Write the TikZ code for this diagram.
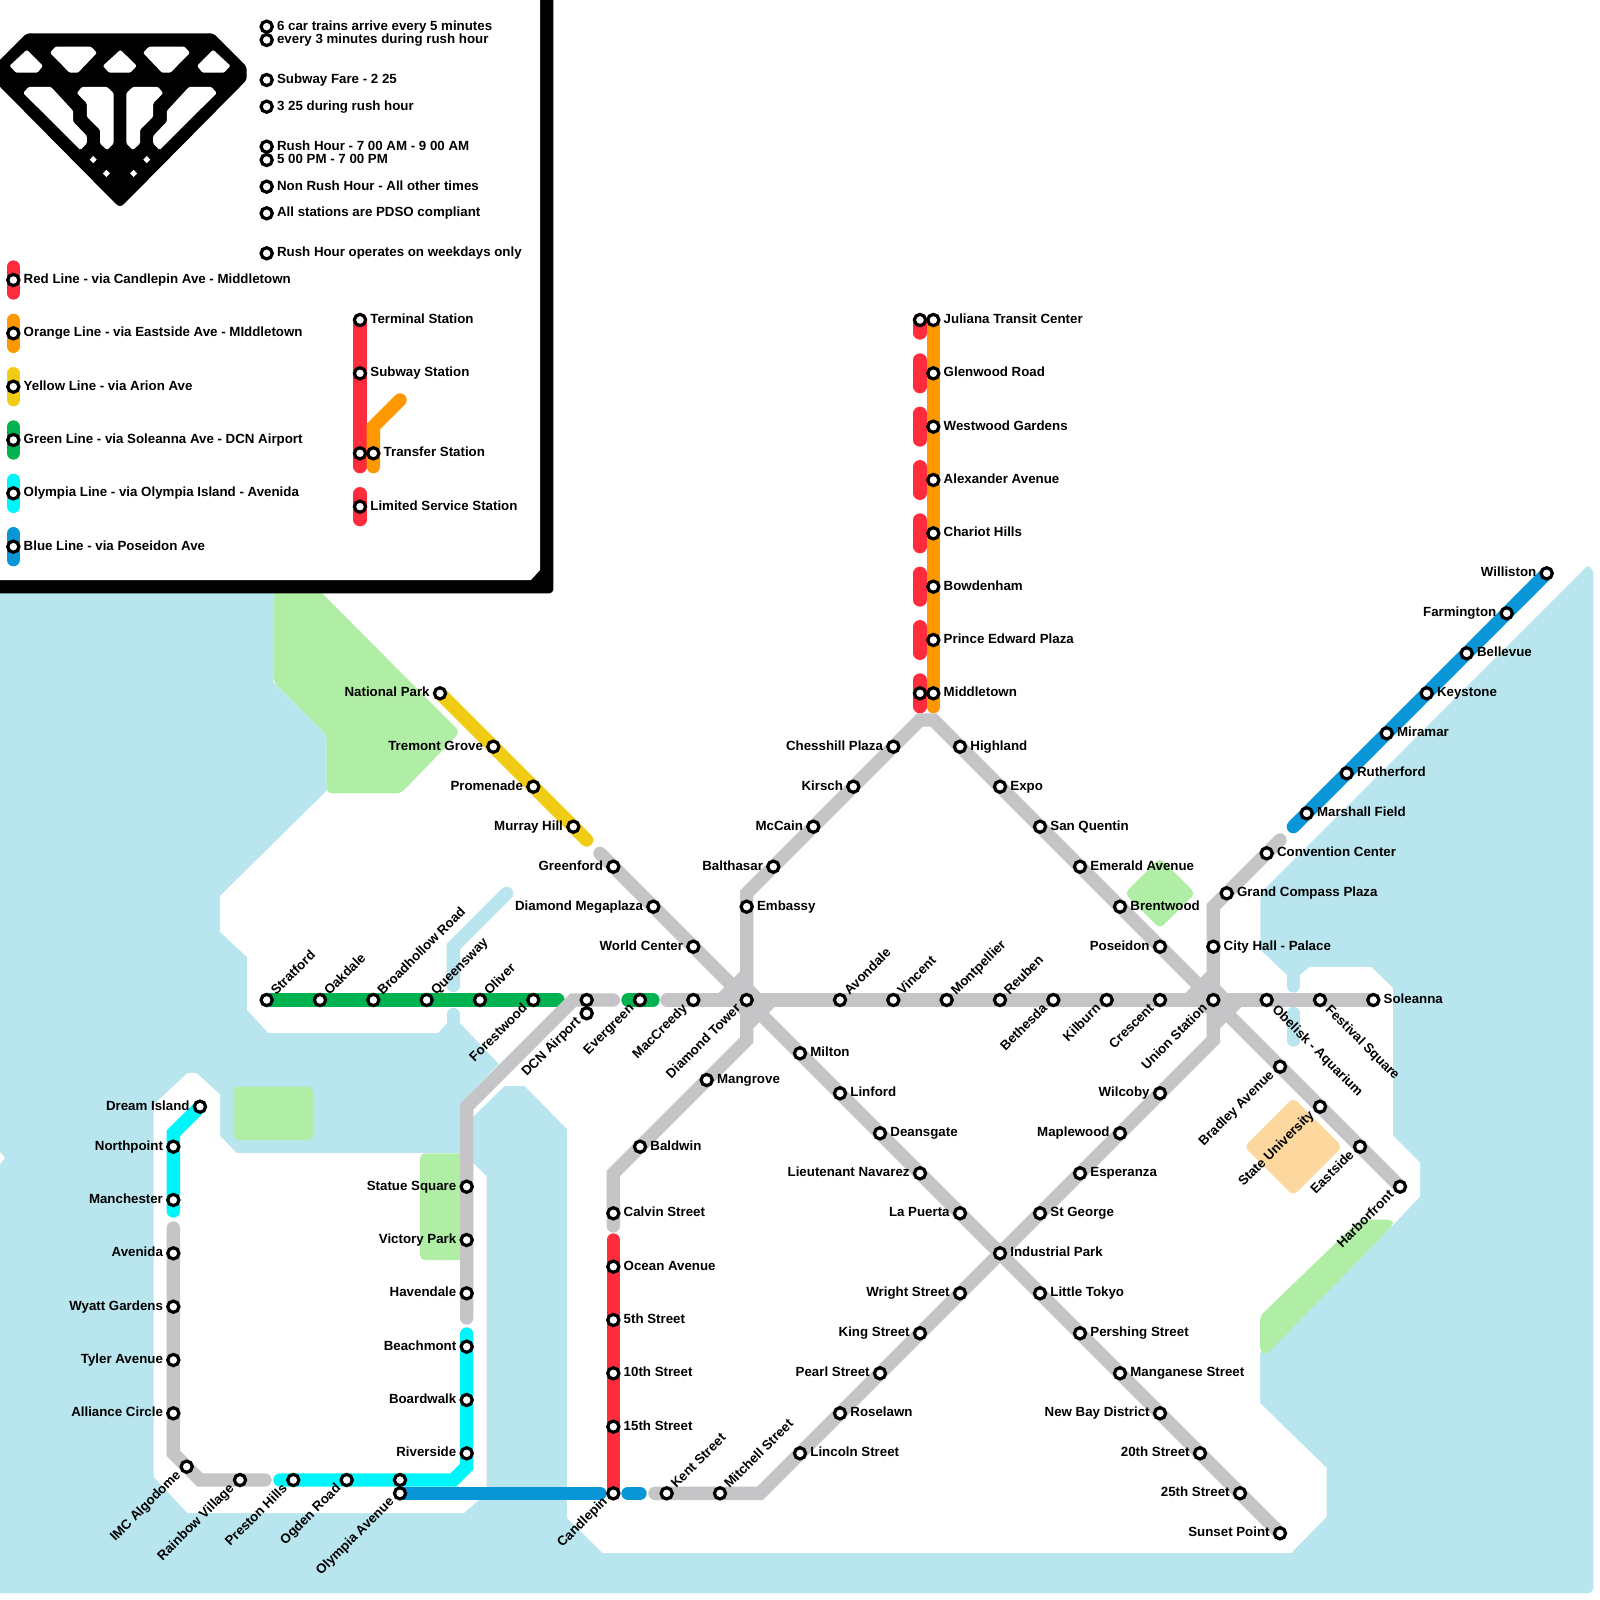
\documentclass[tikz,border=0pt]{standalone}
\usepackage{fontspec}
\setmainfont{Liberation Sans}[BoldFont={Liberation Sans Bold}]
\pgfdeclarelayer{land}\pgfdeclarelayer{frame}\pgfdeclarelayer{lines}
\pgfsetlayers{land,frame,lines,main}
\definecolor{water}{RGB}{184,229,238}
\definecolor{park}{RGB}{177,238,165}
\definecolor{campus}{RGB}{253,216,158}
\definecolor{lgray}{RGB}{197,197,199}
\definecolor{lred}{RGB}{255,45,60}
\definecolor{lorange}{RGB}{255,152,0}
\definecolor{lyellow}{RGB}{240,205,20}
\definecolor{lgreen}{RGB}{0,178,80}
\definecolor{lcyan}{RGB}{0,245,250}
\definecolor{lblue}{RGB}{8,150,215}
\tikzset{
 stn/.style={circle,draw=black,fill=white,line width=1.6pt,minimum size=5.6pt,inner sep=0pt,outer sep=0pt},
 lab/.style={font=\fontsize{6.65pt}{7pt}\selectfont\bfseries,inner sep=0pt,text=black,text height=4.77pt,text depth=0pt},
 rail/.style={line width=6.67pt,line cap=round,line join=miter,miter limit=10},
 graybar/.style={rail,draw=lgray},
 redbar/.style={rail,draw=lred},
 orangebar/.style={rail,draw=lorange},
 yellowbar/.style={rail,draw=lyellow},
 greenbar/.style={rail,draw=lgreen},
 cyanbar/.style={rail,draw=lcyan},
 bluebar/.style={rail,draw=lblue},
 river/.style={draw=water,line width=6.67pt,line cap=round,line join=miter},
 parkarea/.style={fill=park,rounded corners=2.5pt},
 hole/.style={fill=white,rounded corners=0.6pt}
}
\newcommand{\stnE}[4]{\node[stn] (#1) at (#2,#3) {}; \node[lab,anchor=west] (#1-t) at (#2+10,#3-1.3) {#4};}
\newcommand{\stnW}[4]{\node[stn] (#1) at (#2,#3) {}; \node[lab,anchor=east] (#1-t) at (#2-10,#3-1.3) {#4};}
\newcommand{\stnNE}[4]{\node[stn] (#1) at (#2,#3) {}; \node[lab,anchor=west,rotate=45] (#1-t) at (#2+6,#3-7.5) {#4};}
\newcommand{\stnSW}[4]{\node[stn] (#1) at (#2,#3) {}; \node[lab,anchor=east,rotate=45] (#1-t) at (#2-8.5,#3+5.5) {#4};}
\newcommand{\stnSE}[4]{\node[stn] (#1) at (#2,#3) {}; \node[lab,anchor=west,rotate=-45] (#1-t) at (#2+8,#3+7) {#4};}
\newcommand{\stnP}[3]{\node[stn] (#1) at (#2,#3) {};}
\newcommand{\hubfill}[1]{\fill[lgray] ([shift={(-7,-28)}]#1.center) -- ([shift={(28,7)}]#1.center) -- ([shift={(7,28)}]#1.center) -- ([shift={(-28,-7)}]#1.center) -- cycle;}
\begin{document}
\begin{tikzpicture}[x=0.5pt,y=-0.5pt]
\useasboundingbox (0,0) rectangle (1600,1600);
% ---------- stations: legend
\stnE{n1}{266.67}{26.67}{6 car trains arrive every 5 minutes}
\stnE{n2}{266.67}{40}{every 3 minutes during rush hour}
\stnE{n3}{266.67}{80}{Subway Fare - 2 25}
\stnE{n4}{266.67}{106.67}{3 25 during rush hour}
\stnE{n5}{266.67}{146.67}{Rush Hour - 7 00 AM - 9 00 AM}
\stnE{n6}{266.67}{160}{5 00 PM - 7 00 PM}
\stnE{n7}{266.67}{186.67}{Non Rush Hour - All other times}
\stnE{n8}{266.67}{213.33}{All stations are PDSO compliant}
\stnE{n9}{266.67}{253.33}{Rush Hour operates on weekdays only}
\stnE{kr}{13.33}{280}{Red Line - via Candlepin Ave - Middletown}
\stnE{ko}{13.33}{333.33}{Orange Line - via Eastside Ave - MIddletown}
\stnE{ky}{13.33}{386.67}{Yellow Line - via Arion Ave}
\stnE{kg}{13.33}{440}{Green Line - via Soleanna Ave - DCN Airport}
\stnE{kc}{13.33}{493.33}{Olympia Line - via Olympia Island - Avenida}
\stnE{kb}{13.33}{546.67}{Blue Line - via Poseidon Ave}
\stnE{kterm}{360}{320}{Terminal Station}
\stnE{ksub}{360}{373.33}{Subway Station}
\stnP{ktr1}{360}{453.33}
\stnE{ktr2}{373.33}{453.33}{Transfer Station}
\stnE{klim}{360}{506.67}{Limited Service Station}
% ---------- stations: orange / red
\stnP{jr}{920}{320}
\stnE{jul}{933.33}{320}{Juliana Transit Center}
\stnE{gle}{933.33}{373.33}{Glenwood Road}
\stnE{wes}{933.33}{426.67}{Westwood Gardens}
\stnE{ale}{933.33}{480}{Alexander Avenue}
\stnE{cha}{933.33}{533.33}{Chariot Hills}
\stnE{bow}{933.33}{586.67}{Bowdenham}
\stnE{pri}{933.33}{640}{Prince Edward Plaza}
\stnP{mr}{920}{693.33}
\stnE{mid}{933.33}{693.33}{Middletown}
% yellow
\stnW{nat}{440}{693.33}{National Park}
\stnW{tre}{493.33}{746.67}{Tremont Grove}
\stnW{pro}{533.33}{786.67}{Promenade}
\stnW{mur}{573.33}{826.67}{Murray Hill}
% NW diagonal
\stnW{grf}{613.33}{866.67}{Greenford}
\stnW{dmg}{653.33}{906.67}{Diamond Megaplaza}
\stnW{wor}{693.33}{946.67}{World Center}
\stnSW{dia}{746.67}{1000}{Diamond Tower}
\stnE{mil}{800}{1053.33}{Milton}
\stnE{lin}{840}{1093.33}{Linford}
\stnE{dea}{880}{1133.33}{Deansgate}
\stnW{ltn}{920}{1173.33}{Lieutenant Navarez}
\stnW{lap}{960}{1213.33}{La Puerta}
\stnE{ind}{1000}{1253.33}{Industrial Park}
\stnE{lit}{1040}{1293.33}{Little Tokyo}
\stnE{per}{1080}{1333.33}{Pershing Street}
\stnE{man}{1120}{1373.33}{Manganese Street}
\stnW{new}{1160}{1413.33}{New Bay District}
\stnW{s20}{1200}{1453.33}{20th Street}
\stnW{s25}{1240}{1493.33}{25th Street}
\stnW{sun}{1280}{1533.33}{Sunset Point}
% NE arch
\stnE{emb}{746.67}{906.67}{Embassy}
\stnW{bal}{773.33}{866.67}{Balthasar}
\stnW{mcc}{813.33}{826.67}{McCain}
\stnW{kir}{853.33}{786.67}{Kirsch}
\stnW{che}{893.33}{746.67}{Chesshill Plaza}
\stnE{hig}{960}{746.67}{Highland}
\stnE{exp}{1000}{786.67}{Expo}
\stnE{san}{1040}{826.67}{San Quentin}
\stnE{eme}{1080}{866.67}{Emerald Avenue}
\stnE{bre}{1120}{906.67}{Brentwood}
\stnW{pos}{1160}{946.67}{Poseidon}
\stnSW{uni}{1213.33}{1000}{Union Station}
\stnSW{bra}{1280}{1066.67}{Bradley Avenue}
\stnSW{sta}{1320}{1106.67}{State University}
\stnSW{eas}{1360}{1146.67}{Eastside}
\stnSW{har}{1400}{1186.67}{Harborfront}
% horizontal
\stnNE{str}{266.67}{1000}{Stratford}
\stnNE{oak}{320}{1000}{Oakdale}
\stnNE{bro}{373.33}{1000}{Broadhollow Road}
\stnNE{que}{426.67}{1000}{Queensway}
\stnNE{oli}{480}{1000}{Oliver}
\stnSW{for}{533.33}{1000}{Forestwood}
\stnP{dc1}{586.67}{1000}
\stnSW{dc2}{586.67}{1013.33}{DCN Airport}
\stnSW{eve}{640}{1000}{Evergreen}
\stnSW{mac}{693.33}{1000}{MacCreedy}
\stnNE{avo}{840}{1000}{Avondale}
\stnNE{vin}{893.33}{1000}{Vincent}
\stnNE{mon}{946.67}{1000}{Montpellier}
\stnNE{reu}{1000}{1000}{Reuben}
\stnSW{bet}{1053.33}{1000}{Bethesda}
\stnSW{kil}{1106.67}{1000}{Kilburn}
\stnSW{cre}{1160}{1000}{Crescent}
\stnSE{obe}{1266.67}{1000}{Obelisk - Aquarium}
\stnSE{fes}{1320}{1000}{Festival Square}
\stnE{sol}{1373.33}{1000}{Soleanna}
% SW diagonal from Union
\stnE{cit}{1213.33}{946.67}{City Hall - Palace}
\stnE{gra}{1226.67}{893.33}{Grand Compass Plaza}
\stnE{con}{1266.67}{853.33}{Convention Center}
\stnW{wil}{1160}{1093.33}{Wilcoby}
\stnW{map}{1120}{1133.33}{Maplewood}
\stnE{esp}{1080}{1173.33}{Esperanza}
\stnE{stg}{1040}{1213.33}{St George}
\stnW{wri}{960}{1293.33}{Wright Street}
\stnW{kin}{920}{1333.33}{King Street}
\stnW{pea}{880}{1373.33}{Pearl Street}
\stnE{ros}{840}{1413.33}{Roselawn}
\stnE{lnc}{800}{1453.33}{Lincoln Street}
\stnNE{mit}{720}{1493.33}{Mitchell Street}
\stnNE{ken}{666.67}{1493.33}{Kent Street}
\stnSW{can}{613.33}{1493.33}{Candlepin}
% red south
\stnE{man2}{706.67}{1080}{Mangrove}
\stnE{bld}{640}{1146.67}{Baldwin}
\stnE{cal}{613.33}{1213.33}{Calvin Street}
\stnE{oce}{613.33}{1266.67}{Ocean Avenue}
\stnE{s05}{613.33}{1320}{5th Street}
\stnE{s10}{613.33}{1373.33}{10th Street}
\stnE{s15}{613.33}{1426.67}{15th Street}
% west
\stnW{dre}{200}{1106.67}{Dream Island}
\stnW{nor}{173.33}{1146.67}{Northpoint}
\stnW{mnc}{173.33}{1200}{Manchester}
\stnW{ave}{173.33}{1253.33}{Avenida}
\stnW{wya}{173.33}{1306.67}{Wyatt Gardens}
\stnW{tyl}{173.33}{1360}{Tyler Avenue}
\stnW{all}{173.33}{1413.33}{Alliance Circle}
\stnSW{imc}{186.67}{1466.67}{IMC Algodome}
\stnSW{rai}{240}{1480}{Rainbow Village}
\stnSW{pre}{293.33}{1480}{Preston Hills}
\stnSW{ogd}{346.67}{1480}{Ogden Road}
\stnP{oa1}{400}{1480}
\stnSW{oa2}{400}{1493.33}{Olympia Avenue}
\stnW{sq}{466.67}{1186.67}{Statue Square}
\stnW{vic}{466.67}{1240}{Victory Park}
\stnW{hav}{466.67}{1293.33}{Havendale}
\stnW{bea}{466.67}{1346.67}{Beachmont}
\stnW{boa}{466.67}{1400}{Boardwalk}
\stnW{riv}{466.67}{1453.33}{Riverside}
% NE blue
\stnW{wll}{1546.67}{573.33}{Williston}
\stnW{far}{1506.67}{613.33}{Farmington}
\stnE{bel}{1466.67}{653.33}{Bellevue}
\stnE{key}{1426.67}{693.33}{Keystone}
\stnE{mir}{1386.67}{733.33}{Miramar}
\stnE{rut}{1346.67}{773.33}{Rutherford}
\stnE{mar}{1306.67}{813.33}{Marshall Field}
% ---------- free line ends and bends
\coordinate (yEnd) at (586.67,840);
\coordinate (gStart) at (600,853.33);
\coordinate (aBend) at (746.67,893.33);
\coordinate (apexL) at (920,720);
\coordinate (apexR) at (933.33,720);
\coordinate (dBend1) at (746.67,1040);
\coordinate (dBend2) at (613.33,1173.33);
\coordinate (calEnd) at (613.33,1226);
\coordinate (hStart) at (667,1000);
\coordinate (cStart) at (1280,840);
\coordinate (cBend) at (1213.33,906.67);
\coordinate (uBend) at (1213.33,1040);
\coordinate (mBend) at (760,1493.33);
\coordinate (kEnd) at (655,1493.33);
\coordinate (wE1) at (613.33,1000);
\coordinate (wB1) at (573.33,1000);
\coordinate (wB2) at (466.67,1106.67);
\coordinate (wEnd) at (466.67,1318);
\coordinate (aTop) at (173.33,1228);
\coordinate (aB1) at (173.33,1453.33);
\coordinate (aB2) at (200,1480);
\coordinate (aEnd) at (265,1480);
\coordinate (cyB1) at (466.67,1466.67);
\coordinate (cyB2) at (453.33,1480);
\coordinate (cyStart) at (466.67,1334);
\coordinate (cyEnd) at (280,1480);
\coordinate (cnB) at (173.33,1133.33);
\coordinate (cnEnd) at (173.33,1211);
\coordinate (grEnd) at (558,1000);
\coordinate (evA) at (628,1000);
\coordinate (evB) at (653,1000);
\coordinate (blEnd) at (600,1493.33);
\coordinate (bpA) at (628,1493.33);
\coordinate (bpB) at (640,1493.33);
\coordinate (rTop) at (613.33,1240);
\coordinate (nbEnd) at (1293.33,826.67);
\coordinate (oBot) at (933.33,706.67);
% ---------- land and water
\begin{pgfonlayer}{land}
\fill[water,rounded corners=3pt] (-10,540) rectangle (1593.33,1593.33);
\fill[white] (-5,-5) -- (1605,-5) -- (1605,572) -- (1593.4,572) -- (1590.5,567.5) -- (1586.7,566) -- (1583,570) -- (1260.4,893) -- (1260.4,950) -- (1286.8,975) -- (1300,975) -- (1309.6,966.8) -- (1371,966.8) -- (1393,988) -- (1393,1135.7) -- (1420,1162.5) -- (1420,1196.4) -- (1393,1225) -- (1260,1353) -- (1260,1403) -- (1326.7,1468) -- (1326.7,1516.7) -- (1291,1553) -- (602.7,1553) -- (567,1518) -- (567,1129) -- (524.5,1085.8) -- (504.5,1085.8) -- (473,1116.8) -- (466.7,1116.8) -- (466.7,1097) -- (499,1064) -- (460,1023) -- (447,1023) -- (438,1033) -- (268.6,1033) -- (247,1010) -- (247,957) -- (220,932) -- (220,896) -- (326.7,790.7) -- (326.7,735) -- (273.3,682) -- (273.3,590) -- (-5,590) -- cycle;
\fill[white] (187.5,1073) -- (196.4,1073) -- (220,1094.4) -- (220,1135.8) -- (236.6,1153) -- (460,1153) -- (473,1163) -- (486.6,1176.4) -- (486.6,1490) -- (477.7,1501) -- (464,1513) -- (187.5,1513) -- (153.6,1476.8) -- (153.6,1104.8) -- cycle;
\fill[white] (0,1152) -- (5,1158) -- (0,1164) -- cycle;
\draw[river] (453.33,985.5) -- (453.33,946.67) -- (506.67,893.33);
\draw[river] (453.33,1014.5) -- (453.33,1030);
\draw[river] (1293.33,970) -- (1293.33,986);
\draw[river] (1293.33,1013.5) -- (1293.33,1040);
\path[parkarea] (273.33,585) -- (314,585) -- (460,732) -- (401,793.33) -- (326.67,793.33) -- (326.67,735) -- (273.33,681.7) -- cycle;
\path[parkarea] (233.33,1086.67) rectangle (313.33,1140);
\path[parkarea] (420,1153.33) rectangle (470,1260);
\path[parkarea] (1160,858) -- (1195.33,893.33) -- (1160,928.67) -- (1124.67,893.33) -- cycle;
\path[fill=campus,rounded corners=2.5pt] (1293.33,1097.67) -- (1342.33,1146.67) -- (1293.33,1195.67) -- (1244.33,1146.67) -- cycle;
\path[parkarea] (1260,1316) -- (1360,1219.6) -- (1393,1219.6) -- (1393,1225) -- (1266,1355) -- (1260,1352) -- cycle;
\end{pgfonlayer}
% ---------- legend frame and logo
\begin{pgfonlayer}{frame}
\fill[black,rounded corners=2pt] (-10,-10) rectangle (553.33,593.33);
\fill[white] (-10,-10) -- (540,-10) -- (540,570) -- (531,580) -- (-10,580) -- cycle;
\fill[black,rounded corners=1.5pt] (26.67,33.33) -- (213.33,33.33) -- (246.67,66.67) -- (246.67,80) -- (124,204) -- (120,207) -- (116,204) -- (-6.67,80) -- (-6.67,66.67) -- cycle;
\path[hole] (26.8,49.8) -- (42.9,65.8) -- (37.5,72.7) -- (16,72.7) -- (9.6,65.8) -- cycle;
\path[hole] (55.4,46.7) -- (91,46.7) -- (97,52.8) -- (78,72.7) -- (69.6,72.7) -- (50,52.8) -- cycle;
\path[hole] (120.4,49.8) -- (136.8,65.8) -- (130.4,72.7) -- (109,72.7) -- (102.9,65.8) -- cycle;
\path[hole] (184.6,46.7) -- (149,46.7) -- (143,52.8) -- (162,72.7) -- (170.4,72.7) -- (190,52.8) -- cycle;
\path[hole] (213.2,49.8) -- (197.1,65.8) -- (202.5,72.7) -- (224,72.7) -- (230.4,65.8) -- cycle;
\path[hole] (28.6,86.9) -- (51,86.9) -- (73.2,111) -- (73.2,121.7) -- (86.8,135.9) -- (86.8,143.5) -- (80.4,150) -- (23.2,93) -- cycle;
\path[hole] (82,86.9) -- (107,86.9) -- (113.6,93) -- (113.6,143.5) -- (107,150) -- (100,143.5) -- (100,130) -- (86.8,116.7) -- (86.8,103.3) -- (76.8,93) -- cycle;
\path[hole] (211.4,86.9) -- (189,86.9) -- (166.8,111) -- (166.8,121.7) -- (153.2,135.9) -- (153.2,143.5) -- (159.6,150) -- (216.8,93) -- cycle;
\path[hole] (158,86.9) -- (133,86.9) -- (126.4,93) -- (126.4,143.5) -- (133,150) -- (140,143.5) -- (140,130) -- (153.2,116.7) -- (153.2,103.3) -- (163.2,93) -- cycle;
\fill[white] (93.2,156) -- (96.7,159.6) -- (93.2,163.2) -- (89.7,159.6) -- cycle;
\fill[white] (106.4,169.8) -- (109.9,173.4) -- (106.4,177) -- (102.9,173.4) -- cycle;
\fill[white] (146.8,156) -- (150.3,159.6) -- (146.8,163.2) -- (143.3,159.6) -- cycle;
\fill[white] (133.6,169.8) -- (137.1,173.4) -- (133.6,177) -- (130.1,173.4) -- cycle;
\end{pgfonlayer}
% ---------- lines
\begin{pgfonlayer}{lines}
% legend bars
\coordinate (krA) at (13.33,267); \coordinate (krB) at (13.33,293);
\draw[redbar] (krA) -- (kr.center) -- (krB);
\coordinate (koA) at (13.33,320.33); \coordinate (koB) at (13.33,346.33);
\draw[orangebar] (koA) -- (ko.center) -- (koB);
\coordinate (kyA) at (13.33,373.67); \coordinate (kyB) at (13.33,399.67);
\draw[yellowbar] (kyA) -- (ky.center) -- (kyB);
\coordinate (kgA) at (13.33,427); \coordinate (kgB) at (13.33,453);
\draw[greenbar] (kgA) -- (kg.center) -- (kgB);
\coordinate (kcA) at (13.33,480.33); \coordinate (kcB) at (13.33,506.33);
\draw[cyanbar] (kcA) -- (kc.center) -- (kcB);
\coordinate (kbA) at (13.33,533.67); \coordinate (kbB) at (13.33,559.67);
\draw[bluebar] (kbA) -- (kb.center) -- (kbB);
\coordinate (ktEnd) at (360,466.67);
\draw[redbar] (kterm.center) -- (ksub.center) -- (ktr1.center) -- (ktEnd);
\coordinate (koEnd) at (373.33,466.67); \coordinate (koBd) at (373.33,426.67); \coordinate (koTop) at (400,400);
\draw[orangebar] (koEnd) -- (ktr2.center) -- (koBd) -- (koTop);
\coordinate (klA) at (360,493.67); \coordinate (klB) at (360,519.67);
\draw[redbar] (klA) -- (klim.center) -- (klB);
% limited-service red
\coordinate (r0) at (920,333);
\draw[redbar] (jr.center) -- (r0);
\foreach \yy in {373.33,426.67,480,533.33,586.67,640}{
  \coordinate (ra) at (920,\yy-13.33); \coordinate (rb) at (920,\yy+13.33);
  \draw[redbar] (ra) -- (rb);
}
\coordinate (rL) at (920,680); \coordinate (rM) at (920,706.67);
\draw[redbar] (rL) -- (mr.center) -- (rM);
\draw[orangebar] (jul.center) -- (gle.center) -- (wes.center) -- (ale.center) -- (cha.center) -- (bow.center) -- (pri.center) -- (mid.center) -- (oBot);
% yellow
\draw[yellowbar] (nat.center) -- (tre.center) -- (pro.center) -- (mur.center) -- (yEnd);
% gray
\draw[graybar] (gStart) -- (grf.center) -- (dmg.center) -- (wor.center) -- (dia.center) -- (mil.center) -- (lin.center) -- (dea.center) -- (ltn.center) -- (lap.center) -- (ind.center) -- (lit.center) -- (per.center) -- (man.center) -- (new.center) -- (s20.center) -- (s25.center) -- (sun.center);
\draw[graybar] (dia.center) -- (emb.center) -- (aBend) -- (bal.center) -- (mcc.center) -- (kir.center) -- (che.center) -- (apexL) -- (apexR) -- (hig.center) -- (exp.center) -- (san.center) -- (eme.center) -- (bre.center) -- (pos.center) -- (uni.center) -- (bra.center) -- (sta.center) -- (eas.center) -- (har.center);
\draw[graybar] (dia.center) -- (dBend1) -- (man2.center) -- (bld.center) -- (dBend2) -- (cal.center) -- (calEnd);
\draw[graybar] (hStart) -- (mac.center) -- (dia.center) -- (avo.center) -- (vin.center) -- (mon.center) -- (reu.center) -- (bet.center) -- (kil.center) -- (cre.center) -- (uni.center) -- (obe.center) -- (fes.center) -- (sol.center);
\draw[graybar] (cStart) -- (con.center) -- (gra.center) -- (cBend) -- (cit.center) -- (uni.center) -- (uBend) -- (wil.center) -- (map.center) -- (esp.center) -- (stg.center) -- (ind.center) -- (wri.center) -- (kin.center) -- (pea.center) -- (ros.center) -- (lnc.center) -- (mBend) -- (mit.center) -- (ken.center) -- (kEnd);
\hubfill{dia}
\hubfill{uni}
% green
\draw[greenbar] (str.center) -- (oak.center) -- (bro.center) -- (que.center) -- (oli.center) -- (for.center) -- (grEnd);
\draw[greenbar] (evA) -- (eve.center) -- (evB);
\draw[graybar] (wE1) -- (dc1.center) -- (wB1) -- (wB2) -- (sq.center) -- (vic.center) -- (hav.center) -- (wEnd);
\draw[graybar] (aTop) -- (ave.center) -- (wya.center) -- (tyl.center) -- (all.center) -- (aB1) -- (imc.center) -- (aB2) -- (rai.center) -- (aEnd);
% cyan
\draw[cyanbar] (cyStart) -- (bea.center) -- (boa.center) -- (riv.center) -- (cyB1) -- (cyB2) -- (oa1.center) -- (ogd.center) -- (pre.center) -- (cyEnd);
\draw[cyanbar] (dre.center) -- (cnB) -- (nor.center) -- (mnc.center) -- (cnEnd);
% blue
\draw[bluebar] (oa2.center) -- (blEnd);
\draw[bluebar] (bpA) -- (bpB);
\draw[bluebar] (wll.center) -- (far.center) -- (bel.center) -- (key.center) -- (mir.center) -- (rut.center) -- (mar.center) -- (nbEnd);
% red south
\draw[redbar] (rTop) -- (oce.center) -- (s05.center) -- (s10.center) -- (s15.center) -- (can.center);
\end{pgfonlayer}
\end{tikzpicture}
\end{document}
